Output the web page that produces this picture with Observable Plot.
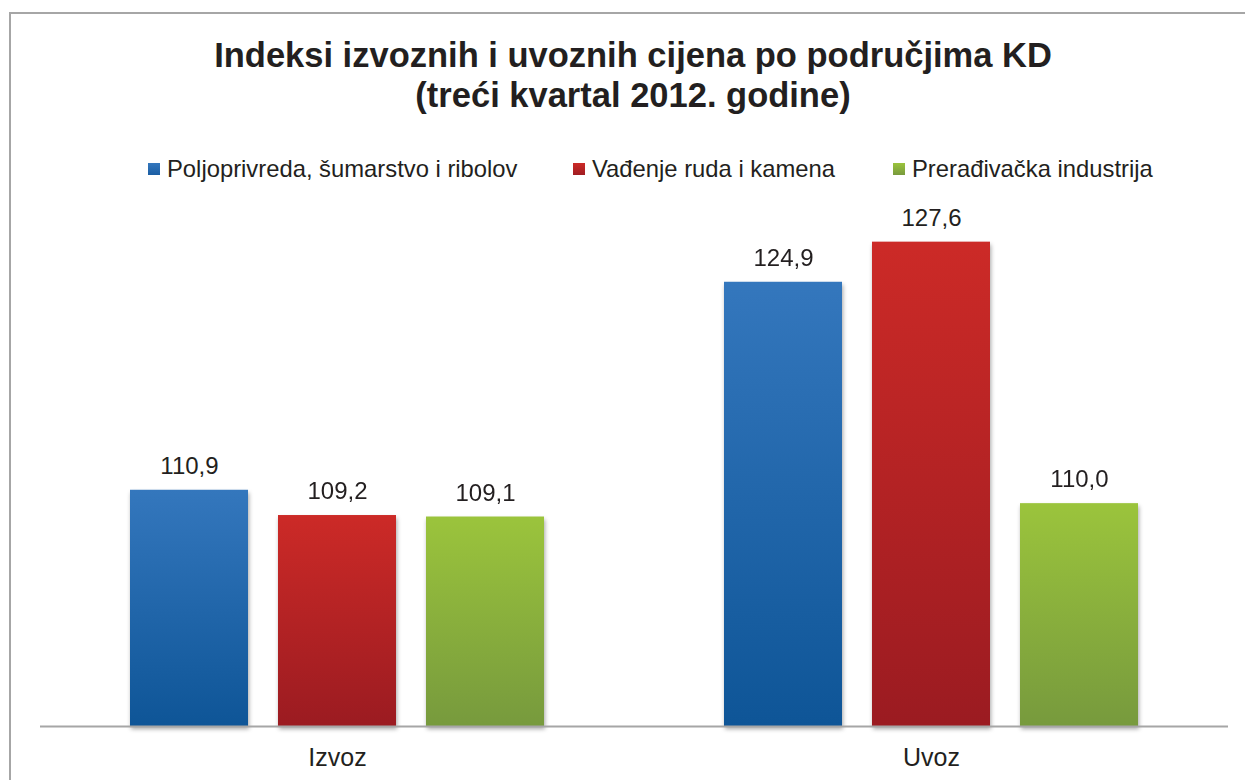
<!DOCTYPE html>
<html>
<head>
<meta charset="utf-8">
<script src="https://cdn.jsdelivr.net/npm/d3@7"></script>
<script src="https://cdn.jsdelivr.net/npm/@observablehq/plot@0.6"></script>
<style>
  html, body { margin: 0; padding: 0; background: #fff; }
  body { font-family: "Liberation Sans", Arial, sans-serif; color: #231f20; }
  #wrap { position: relative; width: 1245px; height: 780px; overflow: hidden; }
  #border { position: absolute; left: 9px; top: 12px; width: 1260px; height: 800px; border: 2px solid #a6a6a6; box-sizing: border-box; }
  #title { position: absolute; left: 0; width: 1266px; top: 35px; text-align: center; font-weight: bold; font-size: 34.5px; line-height: 40px; color: #231f20; }
  #legend { position: absolute; left: 0; top: 155px; width: 1245px; font-size: 23.8px; color: #231f20; }
  #legend .item { position: absolute; display: flex; align-items: center; white-space: nowrap; }
  #legend .sw { width: 12px; height: 12px; margin-right: 7px; }
  #chart { position: absolute; left: 0; top: 190px; }
</style>
</head>
<body>
<div id="wrap">
  <div id="border"></div>
  <div id="title">Indeksi izvoznih i uvoznih cijena po područjima KD<br>(treći kvartal 2012. godine)</div>
  <div id="legend"></div>
  <div id="chart"></div>
</div>
<script>
const groups = ["Izvoz", "Uvoz"];
const series = ["Poljoprivreda, šumarstvo i ribolov", "Vađenje ruda i kamena", "Prerađivačka industrija"];
const izvozValues = [110.9, 109.2, 109.1];
const uvozValues = [124.9, 127.6, 110.0];
const gradTop = ["#3477bd", "#cc2a27", "#9bc43c"];
const gradBottom = ["#0e5597", "#9b1b21", "#779a3d"];
const swatchColors = ["#1b5ea3", "#a01d22", "#789a3d"];
const legendX = [148, 573, 893];

const data = [];
groups.forEach((g, gi) => {
  const vals = gi === 0 ? izvozValues : uvozValues;
  series.forEach((s, si) => data.push({group: g, series: s, value: vals[si]}));
});

// legend
const legend = document.getElementById("legend");
series.forEach((s, i) => {
  const it = document.createElement("div");
  it.className = "item";
  it.style.left = legendX[i] + "px";
  it.innerHTML = `<span class="sw" style="background:linear-gradient(${gradTop[i]}, ${swatchColors[i]})"></span><span>${s}</span>`;
  legend.appendChild(it);
});

const urls = series.map((s, i) => `url(#grad${i})`);
const fmt = v => v.toFixed(1).replace(".", ",");

const chart = Plot.plot({
  width: 1245,
  height: 590,
  marginLeft: 39,
  marginRight: 17,
  marginTop: 16,
  marginBottom: 54,
  style: {fontFamily: "Liberation Sans, Arial, sans-serif", color: "#231f20", background: "transparent"},
  fx: {domain: groups, padding: 0, label: null, axis: "bottom", tickSize: 0, tickPadding: 22, fontSize: 25},
  x: {domain: series, paddingInner: 0.2, paddingOuter: 0.6, axis: null},
  y: {domain: [95, 130], axis: null},
  color: {domain: series, range: urls},
  marks: [
    Plot.barY(data, {fx: "group", x: "series", y1: 95, y2: "value", fill: "series"}),
    Plot.text(data, {fx: "group", x: "series", y: "value", text: d => fmt(d.value), dy: -24, fontSize: 24, fill: "#231f20"}),
    Plot.ruleY([95], {stroke: "#a6a6a6", strokeWidth: 2})
  ]
});

// gradients
const svg = d3.select(chart);
const defs = svg.insert("defs", ":first-child");
series.forEach((s, i) => {
  const g = defs.append("linearGradient").attr("id", `grad${i}`).attr("x1", 0).attr("y1", 0).attr("x2", 0).attr("y2", 1);
  g.append("stop").attr("offset", "0%").attr("stop-color", gradTop[i]);
  g.append("stop").attr("offset", "100%").attr("stop-color", gradBottom[i]);
});
svg.selectAll("g[aria-label='bar']").style("filter", "drop-shadow(1px 3px 2px rgba(0,0,0,0.35))");
svg.selectAll("g[aria-label='fx-axis tick label']").style("font-size", "25px");

document.getElementById("chart").appendChild(chart);
</script>
</body>
</html>
